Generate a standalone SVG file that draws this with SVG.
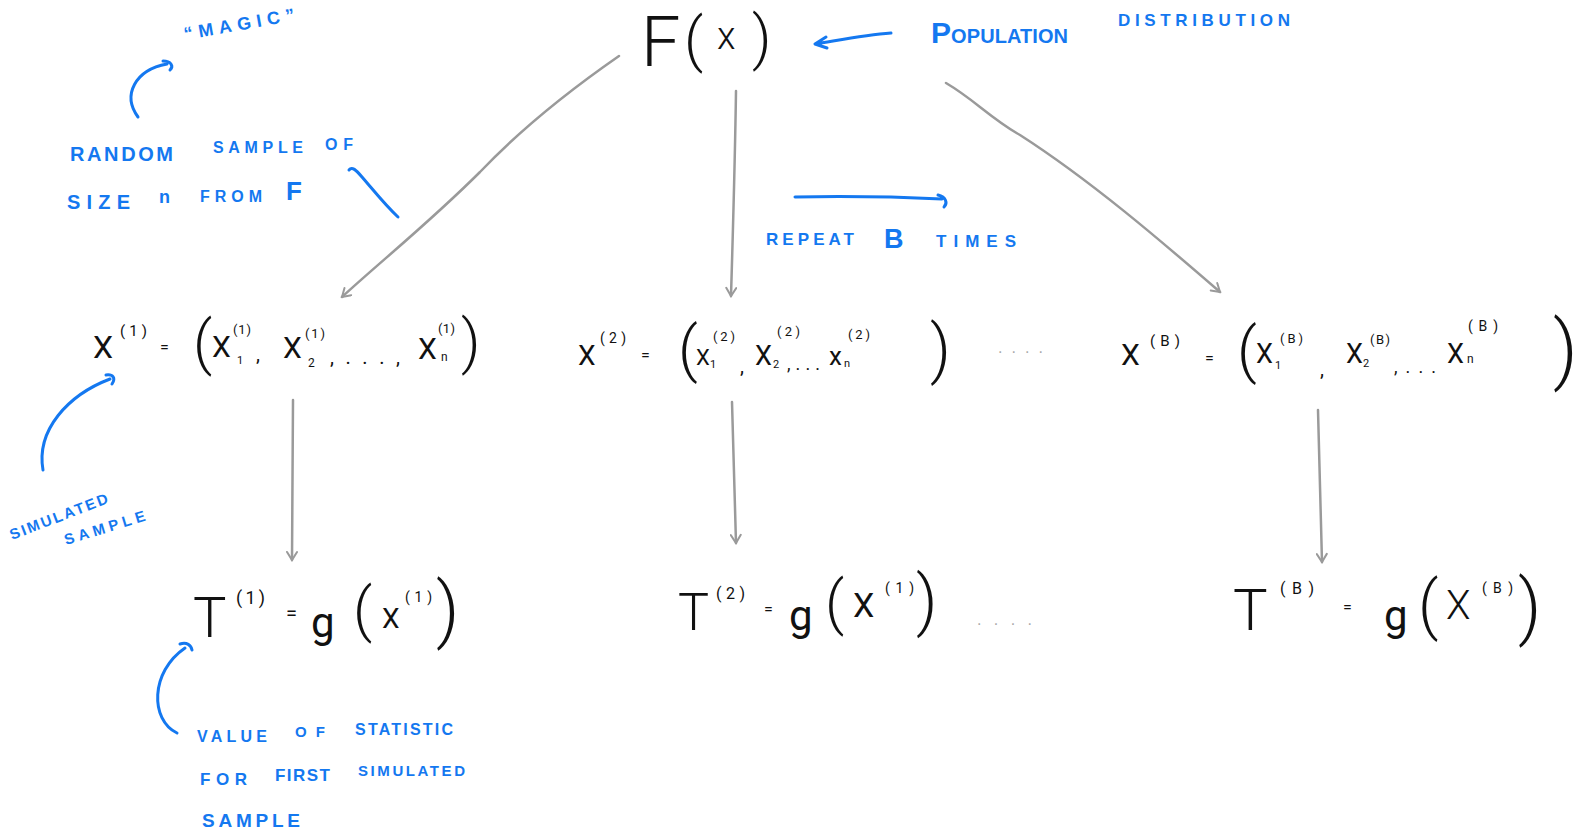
<svg xmlns="http://www.w3.org/2000/svg" width="1587" height="833" viewBox="0 0 1587 833">
<style>
.m{font-family:Roboto,"Liberation Sans",sans-serif;font-weight:400;fill:#111}
.L{font-weight:300}
.b{font-family:"Liberation Sans",Arial,sans-serif;font-weight:bold;fill:#1478f0}
.g{font-family:"Liberation Sans",Arial,sans-serif;fill:#aaa}
.c{fill:none;stroke:#9a9a9a;stroke-width:2.5;stroke-linecap:round}
.bl{fill:none;stroke:#1478f0;stroke-width:3;stroke-linecap:round;stroke-linejoin:round}
</style>
<defs>
<marker id="ga" viewBox="0 0 12 12" refX="10" refY="6" markerWidth="12" markerHeight="12" markerUnits="userSpaceOnUse" orient="auto">
<path d="M2,1 L10,6 L2,11" fill="none" stroke="#9a9a9a" stroke-width="2" stroke-linecap="round"/>
</marker>
</defs>
<rect width="1587" height="833" fill="#fff"/>

<g id="connectors">
<path class="c" marker-end="url(#ga)" d="M619,56 C570,90 520,130 480,172 C430,222 380,262 342,297"/>
<path class="c" marker-end="url(#ga)" d="M736,91 C735,160 733,230 731,296"/>
<path class="c" marker-end="url(#ga)" d="M946,83 C975,100 990,118 1020,135 C1090,180 1160,240 1220,292"/>
<path class="c" marker-end="url(#ga)" d="M293,400 L292,560"/>
<path class="c" marker-end="url(#ga)" d="M732,402 L736,543"/>
<path class="c" marker-end="url(#ga)" d="M1318,410 L1322,562"/>
</g>

<g id="n-Fx">
<text class="m L" y="66"><tspan x="641" font-size="70">F</tspan><tspan x="684" y="60" font-size="60">(</tspan><tspan x="717" y="49" font-size="38">x</tspan><tspan x="752" y="58" font-size="60">)</tspan></text>
</g>

<g id="ann-population">
<path class="bl" d="M891,33 C865,35 840,40 815,44 M826,37 L815,44 L827,48"/>
<text class="b" x="931" y="43" font-size="20" textLength="137" lengthAdjust="spacing"><tspan font-size="30">P</tspan>OPULATION</text>
<text class="b" x="1118" y="26" font-size="17" textLength="172" lengthAdjust="spacing">DISTRIBUTION</text>
</g>

<g id="ann-magic">
<text class="b" x="185" y="40" font-size="18" transform="rotate(-10 185 40)" textLength="112" lengthAdjust="spacing">“MAGIC”</text>
<path class="bl" d="M138,117 C122,95 135,70 167,64 M163,61 C171,61 174,66 170,70"/>
</g>

<g id="ann-random">
<text class="b" x="70" y="161" font-size="20" textLength="103" lengthAdjust="spacing">RANDOM</text>
<text class="b" x="213" y="153" font-size="16" textLength="90" lengthAdjust="spacing">SAMPLE</text>
<text class="b" x="325" y="150" font-size="16" textLength="28" lengthAdjust="spacing">OF</text>
<text class="b" x="67" y="209" font-size="20" textLength="63" lengthAdjust="spacing">SIZE</text>
<text class="b" x="159" y="203" font-size="18">n</text>
<text class="b" x="200" y="202" font-size="16" textLength="62" lengthAdjust="spacing">FROM</text>
<text class="b" x="286" y="200" font-size="26">F</text>
<path class="bl" d="M349,170 C352,166 356,170 362,177 C375,192 385,205 398,217"/>
</g>

<g id="ann-repeat">
<path class="bl" d="M795,197 C850,196 900,197 942,199 M938,195 C946,197 948,203 944,207"/>
<text class="b" x="766" y="245" font-size="17" textLength="88" lengthAdjust="spacing">REPEAT</text>
<text class="b" x="884" y="248" font-size="27">B</text>
<text class="b" x="936" y="247" font-size="17" textLength="80" lengthAdjust="spacing">TIMES</text>
</g>

<g id="n-X1">
<text class="m" x="93" y="358" font-size="32">X</text>
<text class="m" x="120" y="336" font-size="15" textLength="27" lengthAdjust="spacing">(1)</text>
<text class="m" x="160" y="353" font-size="16">=</text>
<text class="m L" x="193" y="363" font-size="60">(</text>
<text class="m" x="212" y="357" font-size="30">X</text>
<text class="m" x="233" y="334" font-size="13" textLength="18" lengthAdjust="spacing">(1)</text>
<text class="m" x="237" y="364" font-size="11">1</text>
<text class="m" x="256" y="361" font-size="20">,</text>
<text class="m" x="283" y="358" font-size="30">X</text>
<text class="m" x="305" y="338" font-size="13" textLength="20" lengthAdjust="spacing">(1)</text>
<text class="m" x="308" y="367" font-size="12">2</text>
<text class="m" x="330" y="364" font-size="20" textLength="70" lengthAdjust="spacing">, . . . ,</text>
<text class="m" x="418" y="359" font-size="30">X</text>
<text class="m" x="438" y="333" font-size="13" textLength="17" lengthAdjust="spacing">(1)</text>
<text class="m" x="441" y="361" font-size="12">n</text>
<text class="m L" x="461" y="362" font-size="60">)</text>
</g>

<g id="n-X2">
<text class="m" x="578" y="365" font-size="28">X</text>
<text class="m" x="600" y="343" font-size="14" textLength="26" lengthAdjust="spacing">(2)</text>
<text class="m" x="641" y="361" font-size="16">=</text>
<text class="m L" x="678" y="370" font-size="62">(</text>
<text class="m" x="696" y="365" font-size="22">X</text>
<text class="m" x="710" y="368" font-size="11">1</text>
<text class="m" x="713" y="341" font-size="13" textLength="22" lengthAdjust="spacing">(2)</text>
<text class="m" x="740" y="373" font-size="20">,</text>
<text class="m" x="755" y="365" font-size="27">X</text>
<text class="m" x="773" y="368" font-size="11">2</text>
<text class="m" x="777" y="336" font-size="13" textLength="23" lengthAdjust="spacing">(2)</text>
<text class="m" x="787" y="370" font-size="18" textLength="33" lengthAdjust="spacing">, . . .</text>
<text class="m" x="829" y="365" font-size="26">x</text>
<text class="m" x="844" y="367" font-size="11">n</text>
<text class="m" x="848" y="339" font-size="13" textLength="22" lengthAdjust="spacing">(2)</text>
<text class="m L" x="930" y="371" font-size="64">)</text>
<text class="g" x="998" y="353" font-size="16" textLength="45" lengthAdjust="spacing">....</text>
</g>

<g id="n-XB">
<text class="m" x="1121" y="365" font-size="30">X</text>
<text class="m" x="1150" y="346" font-size="15" textLength="30" lengthAdjust="spacing">(B)</text>
<text class="m" x="1205" y="364" font-size="16">=</text>
<text class="m L" x="1237" y="371" font-size="62">(</text>
<text class="m" x="1256" y="363" font-size="27">X</text>
<text class="m" x="1275" y="369" font-size="11">1</text>
<text class="m" x="1280" y="343" font-size="13" textLength="23" lengthAdjust="spacing">(B)</text>
<text class="m" x="1320" y="376" font-size="20">,</text>
<text class="m" x="1346" y="363" font-size="27">X</text>
<text class="m" x="1363" y="367" font-size="11">2</text>
<text class="m" x="1370" y="344" font-size="13" textLength="20" lengthAdjust="spacing">(B)</text>
<text class="m" x="1394" y="373" font-size="18" textLength="42" lengthAdjust="spacing">, . . .</text>
<text class="m" x="1447" y="363" font-size="27">X</text>
<text class="m" x="1467" y="363" font-size="12">n</text>
<text class="m" x="1468" y="331" font-size="14" textLength="30" lengthAdjust="spacing">(B)</text>
<text class="m L" x="1553" y="375" font-size="76">)</text>
</g>

<g id="ann-simulated">
<path class="bl" d="M43,470 C36,430 68,395 110,379 M106,375 C113,374 116,378 112,384"/>
<text class="b" x="12" y="540" font-size="15" transform="rotate(-21 12 540)" textLength="104" lengthAdjust="spacing">SIMULATED</text>
<text class="b" x="66" y="545" font-size="15" transform="rotate(-17 66 545)" textLength="84" lengthAdjust="spacing">SAMPLE</text>
</g>

<g id="n-T1">
<text class="m L" x="193" y="637" font-size="56">T</text>
<text class="m" x="236" y="604" font-size="18" textLength="29" lengthAdjust="spacing">(1)</text>
<text class="m" x="286" y="620" font-size="20">=</text>
<text class="m" x="311" y="637" font-size="42">g</text>
<text class="m L" x="353" y="630" font-size="60">(</text>
<text class="m" x="382" y="628" font-size="28">X</text>
<text class="m" x="405" y="602" font-size="14" textLength="27" lengthAdjust="spacing">(1)</text>
<text class="m L" x="436" y="634" font-size="72">)</text>
</g>

<g id="n-T2">
<text class="m L" x="678" y="630" font-size="52">T</text>
<text class="m" x="716" y="599" font-size="16" textLength="29" lengthAdjust="spacing">(2)</text>
<text class="m" x="764" y="615" font-size="16">=</text>
<text class="m" x="789" y="630" font-size="42">g</text>
<text class="m L" x="825" y="623" font-size="60">(</text>
<text class="m" x="853" y="617" font-size="34">X</text>
<text class="m" x="885" y="593" font-size="14" textLength="29" lengthAdjust="spacing">(1)</text>
<text class="m L" x="916" y="623" font-size="66">)</text>
<text class="g" x="977" y="625" font-size="16" textLength="55" lengthAdjust="spacing">....</text>
</g>

<g id="n-TB">
<text class="m L" x="1233" y="630" font-size="58">T</text>
<text class="m" x="1280" y="594" font-size="16" textLength="34" lengthAdjust="spacing">(B)</text>
<text class="m" x="1343" y="613" font-size="16">=</text>
<text class="m" x="1384" y="630" font-size="42">g</text>
<text class="m L" x="1418" y="627" font-size="64">(</text>
<text class="m L" x="1446" y="619" font-size="40">X</text>
<text class="m" x="1482" y="593" font-size="14" textLength="31" lengthAdjust="spacing">(B)</text>
<text class="m L" x="1518" y="631" font-size="72">)</text>
</g>

<g id="ann-value">
<path class="bl" d="M177,733 C150,720 150,672 185,648 M180,644 C187,642 191,645 192,650"/>
<text class="b" x="197" y="742" font-size="16" textLength="70" lengthAdjust="spacing">VALUE</text>
<text class="b" x="295" y="737" font-size="15" textLength="30" lengthAdjust="spacing">OF</text>
<text class="b" x="355" y="735" font-size="16" textLength="98" lengthAdjust="spacing">STATISTIC</text>
<text class="b" x="200" y="785" font-size="17" textLength="47" lengthAdjust="spacing">FOR</text>
<text class="b" x="275" y="781" font-size="17" textLength="55" lengthAdjust="spacing">FIRST</text>
<text class="b" x="358" y="776" font-size="15" textLength="107" lengthAdjust="spacing">SIMULATED</text>
<text class="b" x="202" y="827" font-size="19" textLength="98" lengthAdjust="spacing">SAMPLE</text>
</g>
</svg>
